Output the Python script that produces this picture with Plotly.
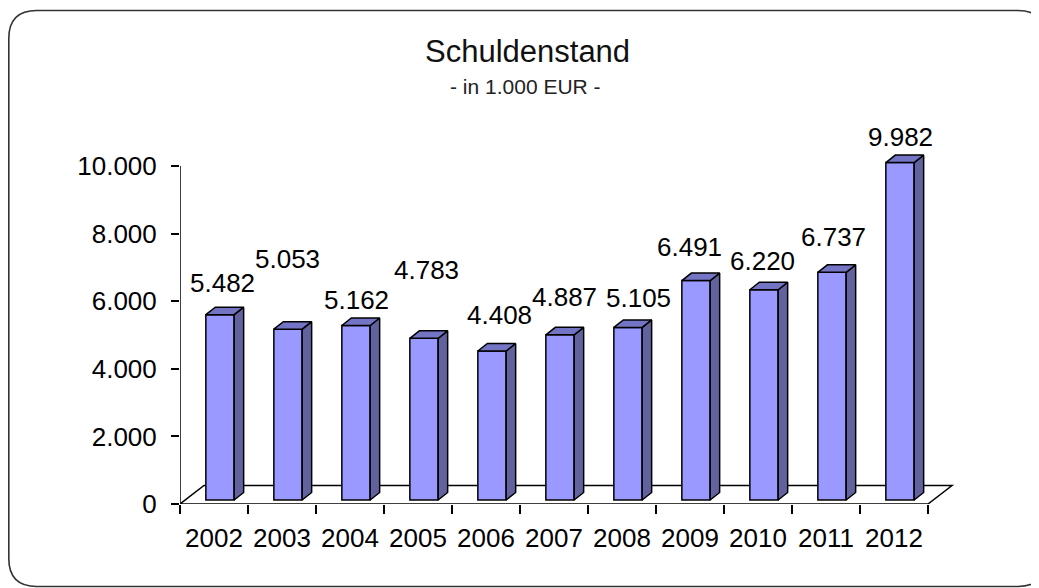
import plotly.graph_objects as go

# ---------------- data ----------------
YEARS = ["2002", "2003", "2004", "2005", "2006", "2007", "2008", "2009", "2010", "2011", "2012"]
DEBT = [5482, 5053, 5162, 4783, 4408, 4887, 5105, 6491, 6220, 6737, 9982]
Y_TICKS = [0, 2000, 4000, 6000, 8000, 10000]
TITLE = "Schuldenstand"
SUBTITLE = "- in 1.000 EUR -"

# label stagger (pixel offsets from the top of each bar, as Excel placed them)
LABEL_LIFT = [32, 70, 26, 68, 36, 38, 29, 34, 29, 35, 26]
LABEL_SHIFT = [2, -1, 0, 2.5, 7, 4, 10, -6.5, -2, 1, 0]

# ---------------- geometry / style ----------------
PAGE_W, PAGE_H = 1039, 588
OFF = 8                          # default body margin of the html page
W, H = PAGE_W - OFF, PAGE_H - OFF
# plot area in page pixels: left 180, right 960, top 140, bottom 504
L = 180 - OFF
T = 140 - OFF
R = W - (960 - OFF)
B = H - (504 - OFF)
PX_CAT = 68.0      # pixels per category
PX_UNIT = 0.0338   # pixels per value unit
plot_w = W - L - R
plot_h = H - T - B
x_range = [-0.5, -0.5 + plot_w / PX_CAT]
y_range = [0, plot_h / PX_UNIT]


def dx(px):
    return px / PX_CAT


def dy(px):
    return px / PX_UNIT


def de(v):
    return f"{v:,}".replace(",", ".")


FONT = "Liberation Sans, Arial, sans-serif"
FRONT = "#9999FF"
SIDE = "#62629F"
TOPC = "#7474C4"
EDGE = "black"

n = len(YEARS)
idx = list(range(n))
off_x = dx(6)
base = dy(4)
bw = dx(28.3)
bdx, bdy = dx(9.5), dy(7.5)
fdx, fdy = dx(24), dy(18.5)

xc = [i + off_x for i in idx]
tops = [base + v for v in DEBT]

# side and top faces of the 3D bars
sx, sy, tx, ty = [], [], [], []
for c, t in zip(xc, tops):
    xl, xr = c - bw / 2, c + bw / 2
    sx += [xr, xr, xr + bdx, xr + bdx, xr, None]
    sy += [base, t, t + bdy, base + bdy, base, None]
    tx += [xl, xl + bdx, xr + bdx, xr, xl, None]
    ty += [t, t + bdy, t + bdy, t, t, None]

fig = go.Figure()

fig.add_trace(go.Bar(
    x=xc, y=DEBT, base=base, width=bw,
    marker=dict(color=FRONT, line=dict(color=EDGE, width=1.5)),
    hoverinfo="skip", showlegend=False,
))
fig.add_trace(go.Scatter(
    x=sx, y=sy, mode="lines", fill="toself", fillcolor=SIDE,
    line=dict(color=EDGE, width=1.5), hoverinfo="skip", showlegend=False,
))
fig.add_trace(go.Scatter(
    x=tx, y=ty, mode="lines", fill="toself", fillcolor=TOPC,
    line=dict(color=EDGE, width=1.5), hoverinfo="skip", showlegend=False,
))
# value axis line
fig.add_trace(go.Scatter(
    x=[x_range[0], x_range[0]], y=[Y_TICKS[0], Y_TICKS[-1]], mode="lines",
    line=dict(color=EDGE, width=1.5), cliponaxis=False,
    hoverinfo="skip", showlegend=False,
))

# floor of the 3D chart (below the traces)
fx0, fx1 = -0.5, n - 0.5
floor_path = (f"M {fx0},0 L {fx1},0 L {fx1 + fdx},{fdy} "
              f"L {fx0 + fdx},{fdy} Z")
fig.add_shape(type="path", path=floor_path, xref="x", yref="y",
              fillcolor="white", line=dict(color=EDGE, width=1.5), layer="below")

# data labels
for c, t, v, lift, sh in zip(xc, tops, DEBT, LABEL_LIFT, LABEL_SHIFT):
    fig.add_annotation(x=c, y=t, xshift=sh, yshift=lift, text=de(v), showarrow=False,
                       xanchor="center", yanchor="middle",
                       font=dict(family=FONT, size=26, color="black"))


# page pixel -> paper helpers for titles and frame
def px_x(p):
    return (p - OFF - L) / plot_w


def px_y(p):
    return (H - B - (p - OFF)) / plot_h


fig.add_annotation(x=px_x(527), y=px_y(52), xref="paper", yref="paper",
                   text=TITLE, showarrow=False, xanchor="center", yanchor="middle",
                   font=dict(family=FONT, size=31, color="#111"))
fig.add_annotation(x=px_x(525), y=px_y(86), xref="paper", yref="paper",
                   text=SUBTITLE, showarrow=False, xanchor="center", yanchor="middle",
                   font=dict(family=FONT, size=21, color="#222"))

# rounded frame (page pixels)
x0, y0, x1, y1, r = 8.8, 10.5, 1046, 586.5, 28


def P(a, b):
    return f"{px_x(a)},{px_y(b)}"


frame = (f"M {P(x0 + r, y0)} L {P(x1 - r, y0)} Q {P(x1, y0)} {P(x1, y0 + r)} "
         f"L {P(x1, y1 - r)} Q {P(x1, y1)} {P(x1 - r, y1)} "
         f"L {P(x0 + r, y1)} Q {P(x0, y1)} {P(x0, y1 - r)} "
         f"L {P(x0, y0 + r)} Q {P(x0, y0)} {P(x0 + r, y0)} Z")
fig.add_shape(type="path", path=frame, xref="paper", yref="paper",
              line=dict(color="#333", width=1.6), layer="above")

fig.update_layout(
    width=W, height=H,
    margin=dict(l=L, r=R, t=T, b=B, pad=0),
    paper_bgcolor="white", plot_bgcolor="white",
    showlegend=False,
    font=dict(family=FONT, color="black"),
    xaxis=dict(
        range=x_range, showgrid=False, zeroline=False, showline=False,
        tickmode="array", tickvals=idx, ticktext=YEARS, ticks="",
        ticklabelstandoff=16,
        tickfont=dict(family=FONT, size=26, color="black"),
        minor=dict(tickmode="array", tickvals=[i - 0.5 for i in range(n + 1)],
                   ticks="outside", ticklen=9, tickwidth=1.5, tickcolor=EDGE,
                   showgrid=False),
        fixedrange=True,
    ),
    yaxis=dict(
        range=y_range, showgrid=False, zeroline=False, showline=False,
        tickmode="array", tickvals=Y_TICKS, ticktext=[de(v) for v in Y_TICKS],
        ticks="outside", ticklen=8, tickwidth=1.5, tickcolor=EDGE,
        ticklabelstandoff=9,
        tickfont=dict(family=FONT, size=26, color="black"),
        fixedrange=True,
    ),
)

fig.write_html("out.html")
